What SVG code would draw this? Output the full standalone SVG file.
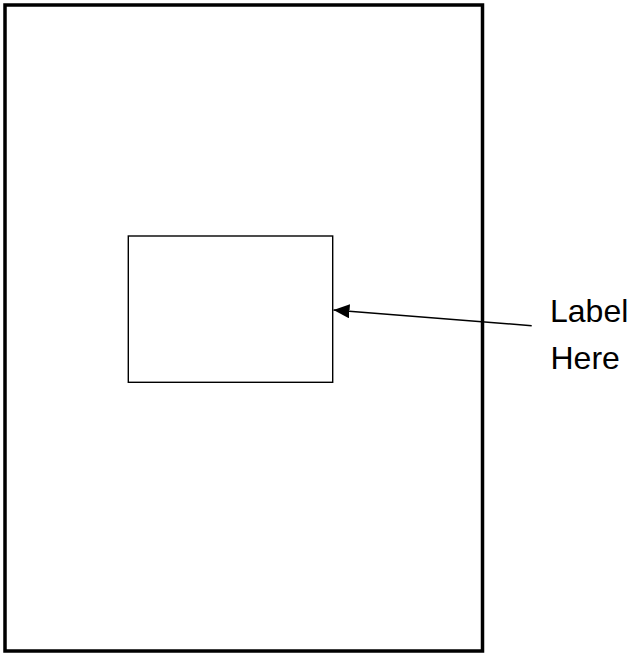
<svg xmlns="http://www.w3.org/2000/svg" width="629" height="653" viewBox="0 0 629 653">
<style>
.frame{fill:#fff;stroke:#000;stroke-width:3.5}
.box{fill:#fff;stroke:#000;stroke-width:1.4}
.conn{fill:none;stroke:#000;stroke-width:1.4}
.lbl{font-family:"Liberation Sans",Arial,sans-serif;font-size:32px;fill:#000}
</style>
<defs>
<marker id="ah" markerUnits="userSpaceOnUse" markerWidth="16" markerHeight="14" refX="16" refY="7" orient="auto" viewBox="0 0 16 14">
<path d="M16,7 L0,0 L0,14 Z" fill="#000"/>
</marker>
</defs>
<rect width="629" height="653" fill="#fff"/>
<g id="page"><rect class="frame" x="5" y="5" width="477.5" height="646"/></g>
<g id="box"><rect class="box" x="128.3" y="236" width="204.4" height="146.3"/></g>
<g id="connectors"><line class="conn" x1="531.7" y1="325.7" x2="333.5" y2="310" marker-end="url(#ah)"/></g>
<g id="label"><text class="lbl" x="550" y="321.5">Label</text><text class="lbl" x="550.5" y="369">Here</text></g>
</svg>
